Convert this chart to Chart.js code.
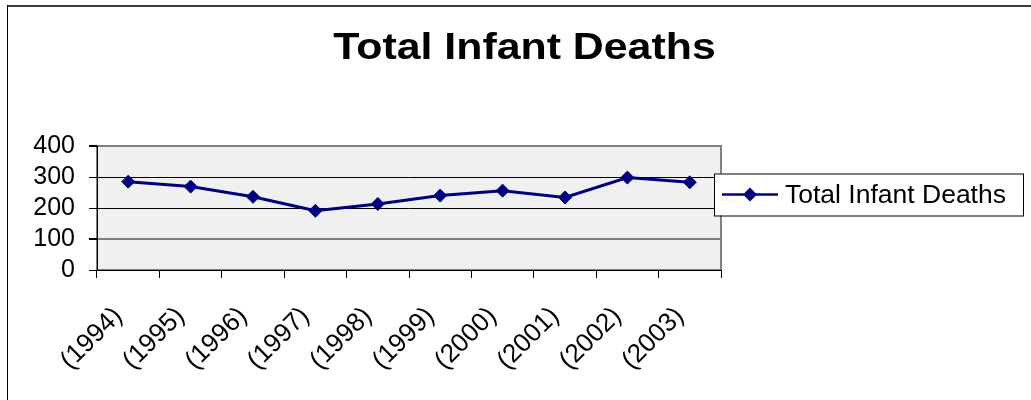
<!DOCTYPE html>
<html>
<head>
<meta charset="utf-8">
<script src="https://cdn.jsdelivr.net/npm/chart.js@4/dist/chart.umd.min.js"></script>
<style>
  html, body { margin:0; padding:0; background:#fff; }
  #wrap { width:1031px; height:400px; position:relative; }
</style>
</head>
<body>
<div id="wrap"><canvas id="deathsChart" width="1031" height="400"></canvas></div>
<script>
// values
const chartTitle = "Total Infant Deaths";
const years = ["(1994)","(1995)","(1996)","(1997)","(1998)","(1999)","(2000)","(2001)","(2002)","(2003)"];
const infantDeaths = [285, 269, 236, 191, 213, 240, 256, 234, 298, 283];
const yMin = 0, yMax = 400, yStep = 100;

const NAVY = "#000080";
const FONT = '"Liberation Sans", Arial, sans-serif';
Chart.defaults.font.family = FONT;
Chart.defaults.color = "#000";

// outer frame, plot background and stretched title (Excel look)
const excelLook = {
  id: "excelLook",
  beforeDraw(chart) {
    const {ctx, chartArea: a} = chart;
    ctx.save();
    ctx.fillStyle = "#3c3c3c";
    ctx.fillRect(7, 5, chart.width, 2);
    ctx.fillStyle = "#000";
    ctx.fillRect(7, 5, 1, chart.height);
    ctx.fillStyle = "#f0f0f0";
    ctx.fillRect(a.left, a.top, a.right - a.left, a.bottom - a.top);
    ctx.strokeStyle = "#808080";
    ctx.lineWidth = 2;
    ctx.strokeRect(a.left, a.top, a.right - a.left, a.bottom - a.top);
    ctx.fillStyle = "#000";
    ctx.font = "bold 36px " + FONT;
    ctx.textAlign = "center";
    ctx.textBaseline = "alphabetic";
    ctx.translate(chart.width / 2 + 9, 59);
    ctx.scale(1.19, 1);
    ctx.fillText(chartTitle, 0, 0);
    ctx.restore();
  },
  afterDraw(chart) {
    const {ctx, chartArea: a} = chart;
    const ds = chart.data.datasets[0];
    const x = a.right - 7, y = a.top + 27.5, w = 309, h = 42;
    ctx.save();
    ctx.fillStyle = "#fff";
    ctx.fillRect(x, y, w, h);
    ctx.strokeStyle = "#000";
    ctx.lineWidth = 1;
    ctx.strokeRect(x + 0.5, y + 0.5, w, h);
    const cy = y + 21;
    ctx.strokeStyle = ds.borderColor;
    ctx.lineWidth = 2.5;
    ctx.beginPath();
    ctx.moveTo(x + 8, cy);
    ctx.lineTo(x + 64, cy);
    ctx.stroke();
    ctx.fillStyle = ds.pointBackgroundColor;
    ctx.beginPath();
    ctx.moveTo(x + 36 - 7, cy);
    ctx.lineTo(x + 36, cy - 7);
    ctx.lineTo(x + 36 + 7, cy);
    ctx.lineTo(x + 36, cy + 7);
    ctx.closePath();
    ctx.fill();
    ctx.fillStyle = "#000";
    ctx.font = "26.5px " + FONT;
    ctx.textAlign = "left";
    ctx.textBaseline = "middle";
    ctx.fillText(ds.label, x + 71, cy + 1);
    ctx.restore();
  }
};

new Chart(document.getElementById("deathsChart"), {
  type: "line",
  data: {
    labels: years,
    datasets: [{
      label: chartTitle,
      data: infantDeaths,
      borderColor: NAVY,
      backgroundColor: NAVY,
      pointBackgroundColor: NAVY,
      pointBorderColor: NAVY,
      borderWidth: 3,
      pointStyle: "rectRot",
      pointRadius: 6.5,
      pointBorderWidth: 1,
      tension: 0
    }]
  },
  options: {
    responsive: false,
    animation: false,
    events: [],
    layout: { padding: { left: 7, top: 146, right: 310, bottom: 20 } },
    plugins: { legend: { display: false }, title: { display: false }, tooltip: { enabled: false } },
    scales: {
      x: {
        offset: true,
        grid: { offset: true, drawOnChartArea: false, tickLength: 8, tickColor: "#000" },
        border: { color: "#000", width: 1 },
        ticks: { autoSkip: false, minRotation: 45, maxRotation: 45, padding: 23, labelOffset: -10, font: { size: 26 }, color: "#000" },
        afterFit(s) { s.height = 110; }
      },
      y: {
        min: yMin, max: yMax,
        ticks: { autoSkip: false, stepSize: yStep, padding: 14, font: { size: 25 }, color: "#000" },
        grid: {
          tickLength: 8,
          tickColor: "#000",
          color: c => (c.tick && (c.tick.value === yMax || c.tick.value === 100)) ? "#808080" : "#000",
          lineWidth: c => (c.tick && (c.tick.value === yMax || c.tick.value === 100)) ? 2 : 1
        },
        border: { color: "#000", width: 1 },
        afterFit(s) { s.width = 90; }
      }
    }
  },
  plugins: [excelLook]
});
</script>
</body>
</html>
